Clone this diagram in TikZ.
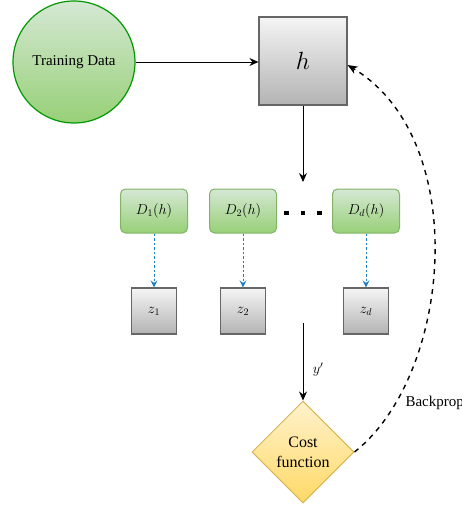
\documentclass[tikz,border=0pt]{standalone}
\usepackage{fontspec}
\setmainfont{Liberation Serif}
\usetikzlibrary{shapes.geometric,arrows.meta,positioning}
\definecolor{dgreen}{HTML}{009900}
\definecolor{lgreen}{HTML}{D5E8D4}
\definecolor{mgreen}{HTML}{97D077}
\definecolor{bgreen}{HTML}{82B366}
\definecolor{gborder}{HTML}{666666}
\definecolor{glight}{HTML}{F5F5F5}
\definecolor{gdark}{HTML}{B3B3B3}
\definecolor{ylight}{HTML}{FFF2CC}
\definecolor{ydark}{HTML}{FFD966}
\definecolor{yborder}{HTML}{D6B656}
\definecolor{bluearr}{HTML}{1F7FC4}
\tikzset{
  datanode/.style={circle, draw=dgreen, line width=1.2pt, top color=lgreen,
    bottom color=mgreen, minimum size=122pt, inner sep=0pt,
    font=\fontsize{15}{17}\selectfont},
  modelbox/.style={draw=gborder, line width=1.2pt, top color=glight,
    bottom color=gdark, minimum size=88pt, inner sep=0pt,
    font=\fontsize{23}{25}\selectfont},
  dimbox/.style={draw=bgreen, line width=1pt, rounded corners=5pt,
    top color=lgreen, bottom color=mgreen, minimum width=67pt,
    minimum height=44pt, font=\fontsize{14}{16}\selectfont},
  outbox/.style={draw=gborder, line width=1.2pt, top color=glight,
    bottom color=gdark, minimum width=45pt, minimum height=46pt,
    font=\fontsize{14}{16}\selectfont},
  costnode/.style={diamond, aspect=1, draw=yborder, line width=1pt,
    top color=ylight, bottom color=ydark, minimum size=102pt, inner sep=0pt,
    align=center, font=\fontsize{16}{20}\selectfont},
  arr/.style={line width=0.9pt, -{Stealth[length=9pt,width=8pt,inset=3pt]}},
  blarr/.style={bluearr, line width=0.9pt, dash pattern=on 2.5pt off 2pt,
    -{Stealth[length=7pt,width=7pt,inset=2.5pt]}},
  bparr/.style={line width=1.4pt, dash pattern=on 5pt off 5pt,
    -{Stealth[length=10pt,width=8pt,inset=3pt]}}
}
\begin{document}
\begin{tikzpicture}[x=1pt,y=-1pt]
  \useasboundingbox (0,0) rectangle (462,508);
  % input and model
  \node[datanode] (data) at (74,62) {Training Data};
  \node[modelbox] (h) at (303,61) {$h$};
  \draw[arr] (data) -- (h.west |- data);
  \coordinate (split) at (303,182);
  \draw[arr] (h) -- (split);
  % dimensions and outputs
  \foreach \nm/\xx/\sb in {1/154/1, 2/243/2, d/366/d}
   {
    \node[dimbox] (D\nm) at (\xx,211) {$D_{\sb}(h)$};
    \node[outbox] (z\nm) at (\xx,311) {$z_{\sb}$};
    \draw[blarr] (D\nm) -- (z\nm);
   }
  \foreach \xx in {286.5,303,319.5}
    \fill (\xx-2.2,210.5) rectangle (\xx+2.2,214.9);
  % cost and backprop
  \node[costnode] (cost) at (303,452) {Cost\\function};
  \coordinate (merge) at (303,323);
  \draw[arr] (merge) -- node[pos=0.6, right=6pt, font=\fontsize{14}{16}\selectfont] (yp) {$y'$} (cost);
  \draw[bparr] (cost.east) .. controls (452,375) and (472,140) .. (h.east |- 0,65);
  \node[anchor=west, font=\fontsize{15}{17}\selectfont] (bp) at (402,403) {Backprop};
\end{tikzpicture}
\end{document}
